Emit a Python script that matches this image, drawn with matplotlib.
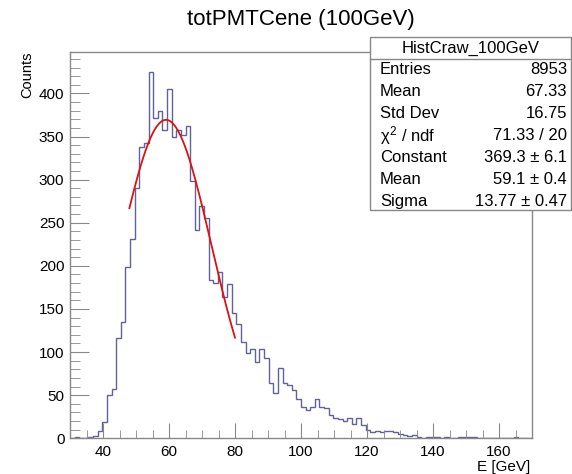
import numpy as np
import matplotlib
matplotlib.use("Agg")
import matplotlib.pyplot as plt
from matplotlib.patches import Rectangle
from matplotlib.lines import Line2D
from matplotlib.ticker import MultipleLocator

plt.rcParams["font.family"] = ["Liberation Sans", "DejaVu Sans"]
plt.rcParams["mathtext.fontset"] = "custom"
plt.rcParams["mathtext.rm"] = "Liberation Sans"
plt.rcParams["mathtext.it"] = "Liberation Sans"

# histogram: 100 bins from 30 to 170 GeV
x_low, x_high, n_bins = 30.0, 170.0, 100
counts = [
    0, 1, 0, 0, 1, 3, 8, 19, 50, 57,
    116, 135, 199, 231, 290, 338, 342, 425, 371, 379,
    357, 405, 350, 358, 352, 362, 298, 241, 269, 255,
    184, 180, 193, 164, 179, 145, 133, 112, 99, 103,
    89, 103, 93, 64, 53, 81, 64, 62, 56, 46,
    36, 33, 36, 45, 36, 35, 27, 24, 22, 20,
    24, 17, 24, 15, 10, 7, 8, 7, 9, 9,
    7, 5, 4, 3, 4, 2, 0, 1, 1, 2,
    0, 1, 0, 0, 1, 1, 2, 1, 0, 0,
    0, 0, 0, 0, 0, 0, 1, 0, 0, 0,
]

# gaussian fit result
fit_const, fit_mean, fit_sigma = 369.3, 59.1, 13.77
fit_range = (48.0, 80.0)

stat_names = ["Entries", "Mean", "Std Dev", r"$\chi^2$ / ndf", "Constant", "Mean", "Sigma"]
stat_values = ["8953", "67.33", "16.75", "71.33 / 20",
               "369.3 \u00b1 6.1", "59.1 \u00b1 0.4", "13.77 \u00b1 0.47"]

W, H = 572, 474
fig = plt.figure(figsize=(W / 100, H / 100), dpi=100)


def fx(px):
    return px / W


def fy(py):
    # pixel measured from the top
    return 1 - py / H


ax = fig.add_axes([fx(70), fy(438.3), fx(532) - fx(70), fy(52) - fy(438.3)])

edges = np.linspace(x_low, x_high, n_bins + 1)
ax.stairs(counts, edges, color="#62629a", linewidth=1.0, baseline=None)

xf = np.linspace(fit_range[0], fit_range[1], 200)
yf = fit_const * np.exp(-0.5 * ((xf - fit_mean) / fit_sigma) ** 2)
ax.plot(xf, yf, color="#dd1111", linewidth=1.3)

ax.set_xlim(x_low, x_high)
ax.set_ylim(0, 448)

frame_col = "#888888"
for side in ax.spines.values():
    side.set_color(frame_col)
    side.set_linewidth(1.0)

ax.xaxis.set_major_locator(MultipleLocator(20))
ax.xaxis.set_minor_locator(MultipleLocator(5))
ax.yaxis.set_major_locator(MultipleLocator(50))
ax.yaxis.set_minor_locator(MultipleLocator(10))
ax.tick_params(axis="both", which="both", direction="in", color=frame_col,
               labelsize=11, labelcolor="black")
ax.tick_params(axis="x", which="major", length=11, pad=5)
ax.tick_params(axis="x", which="minor", length=5.5)
ax.tick_params(axis="y", which="major", length=14, pad=4)
ax.tick_params(axis="y", which="minor", length=7)
ax.set_xticks([40, 60, 80, 100, 120, 140, 160])

fig.text(0.5 * (fx(70) + fx(532)), fy(20), "totPMTCene (100GeV)",
         ha="center", va="center", fontsize=16)
fig.text(fx(530), fy(474), "E [GeV]", ha="right", va="bottom", fontsize=11)
fig.text(fx(27), fy(52), "Counts", rotation=90, ha="center", va="top",
         fontsize=10.5)

# stats box
bx0, bx1, by0, by1 = 369.5, 571.0, 37.0, 210.0
fig.add_artist(Rectangle((fx(bx0), fy(by1)), fx(bx1) - fx(bx0), fy(by0) - fy(by1),
                         transform=fig.transFigure, facecolor="white",
                         edgecolor=frame_col, linewidth=1.0, zorder=5))
fig.add_artist(Line2D([fx(bx0), fx(bx1)], [fy(59.3), fy(59.3)],
                      transform=fig.transFigure, color=frame_col,
                      linewidth=1.0, zorder=6))
fig.text(fx(0.5 * (bx0 + bx1)), fy(48.5), "HistCraw_100GeV", ha="center",
         va="center", fontsize=12, zorder=7)
row_y = [69.5, 91.5, 113.5, 136.0, 158.0, 180.0, 201.5]
for name, val, ry in zip(stat_names, stat_values, row_y):
    fig.text(fx(380), fy(ry), name, ha="left", va="center", fontsize=12, zorder=7)
    fig.text(fx(567), fy(ry), val, ha="right", va="center", fontsize=12, zorder=7)

fig.savefig("out.png", dpi=100)
